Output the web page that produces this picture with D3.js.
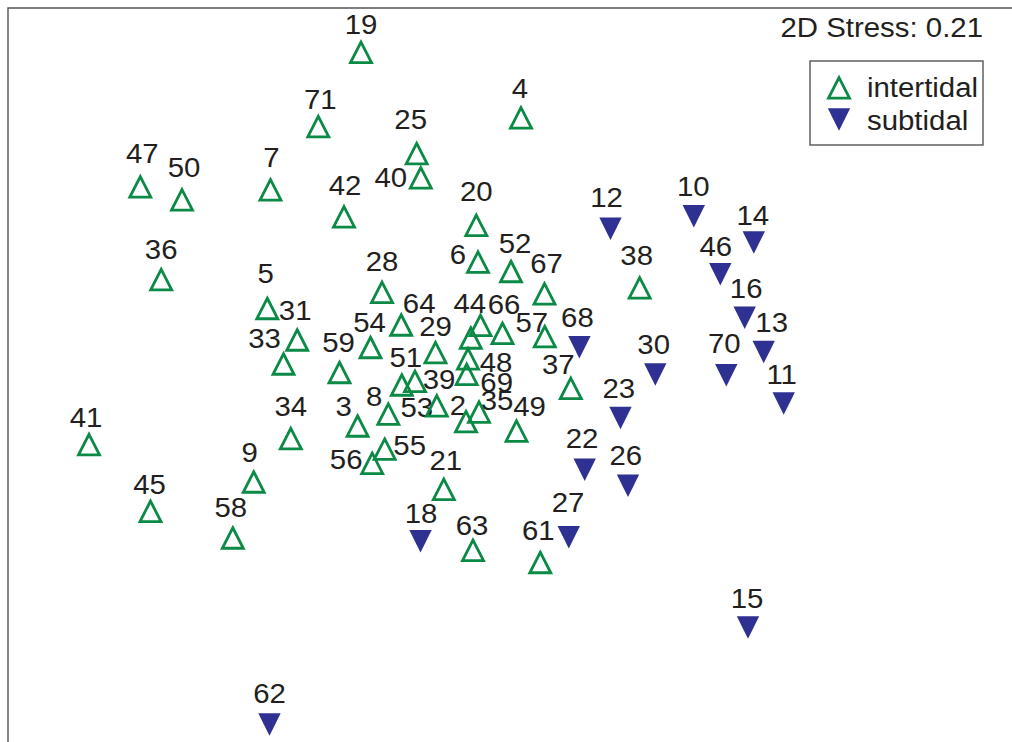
<!DOCTYPE html>
<html>
<head>
<meta charset="utf-8">
<script src="https://cdn.jsdelivr.net/npm/d3@7"></script>
<style>
html,body{margin:0;padding:0;background:#fff;}
svg{display:block;}
</style>
</head>
<body>
<script>
// ---------------- DATA (MDS coordinates) ----------------
const groups = ["intertidal", "subtidal"];
const stressText = "2D Stress: 0.21";

const intertidalIds = ["19","71","4","25","40","47","50","7","42","20","36","6","52","67","38","28","5","31","64","54","44","","66","57","29","33","59","48","69","51","39","37","8","53","2","35","49","3","34","55","56","41","9","21","45","58","63","61"];
const intertidalX = [-0.695,-0.9085,0.105,-0.4165,-0.396,-1.7985,-1.59,-1.1475,-0.78,-0.1185,-1.694,-0.11,0.055,0.2225,0.6985,-0.59,-1.1635,-1.014,-0.494,-0.6475,-0.146,-0.0975,0.0125,0.224,-0.3225,-1.0825,-0.8025,-0.16,-0.1665,-0.491,-0.425,0.354,-0.5585,-0.316,-0.17,-0.105,0.0825,-0.712,-1.046,-0.5765,-0.639,-2.055,-1.2315,-0.281,-1.7475,-1.336,-0.135,0.2015];
const intertidalY = [1.7425,1.371,1.415,1.236,1.115,1.07,1.005,1.055,0.92,0.8775,0.606,0.6935,0.6465,0.535,0.565,0.5425,0.4615,0.304,0.379,0.2665,0.314,0.3775,0.3375,0.321,0.241,0.184,0.1415,0.21,0.1325,0.079,0.097,0.0625,-0.0665,-0.025,-0.104,-0.0565,-0.1515,-0.126,-0.189,-0.242,-0.313,-0.219,-0.406,-0.4425,-0.5525,-0.686,-0.7475,-0.8085];

const subtidalIds = ["12","10","14","46","16","13","68","30","70","11","23","22","26","27","18","15","62"];
const subtidalX = [0.5525,0.969,1.269,1.1015,1.2235,1.3185,0.397,0.7765,1.1315,1.4185,0.6025,0.4235,0.64,0.344,-0.3975,1.24,-1.1525];
const subtidalY = [0.856,0.919,0.7875,0.6285,0.4115,0.24,0.264,0.1275,0.1235,-0.0175,-0.09,-0.3485,-0.429,-0.6865,-0.706,-1.1375,-1.6225];

// ---------------- LAYOUT (label nudges in px, baseline relative to marker) ----------------
const labelNudge = {
  "19":[0,-18],"71":[2,-16.5],"4":[-1,-19],"25":[-6,-24],"40":[-30,10],"47":[2,-23],"50":[2,-22],
  "7":[1,-22],"42":[1,-21],"20":[0,-24],"36":[0,-19.5],"6":[-20,3],"52":[4,-17.5],"67":[2,-20],
  "38":[-3,-22],"28":[0,-21],"5":[-1.5,-25],"31":[-2,-19],"64":[18,-11],"54":[-1,-15],"44":[-1,-24],
  "66":[1.5,-19],"57":[-13,-4],"29":[0,-16],"33":[-19,-15],"59":[-1,-20],"48":[28,14],"69":[30,18],
  "51":[4,-17],"39":[24,8],"37":[-12.5,-14],"8":[-14,-7],"53":[-20,12],"2":[-8,-6],"35":[18,-1],
  "49":[13,-14],"3":[-14,-9],"34":[0,-22],"55":[25,6.5],"56":[-26,6],"41":[-3,-17],"9":[-4,-19.5],
  "21":[2,-18.5],"45":[-1,-17],"58":[-2,-20],"63":[-1,-14.5],"61":[-2,-22],
  "12":[-4,-22],"10":[-0.5,-20],"14":[-1,-17.5],"46":[-4.5,-18.3],"16":[1.5,-19.5],"13":[8,-20.3],
  "68":[-2,-20.6],"30":[-1.6,-21],"70":[-2,-22],"11":[-2,-20],"23":[-1.7,-20.3],"22":[-2.7,-21.4],
  "26":[-2.2,-20.8],"27":[-0.8,-25.6],"18":[0.5,-18],"15":[-1,-20],"62":[0,-22]
};

const W = 1012, H = 742;
const green = "#0a8a45", navy = "#2e3192", textCol = "#231f20", frameCol = "#555";
const font = "'Liberation Sans', Arial, Helvetica, sans-serif";
const stretch = 1.05; // reference glyphs are slightly wide

const svg = d3.select("body").append("svg").attr("width", W).attr("height", H);

const x = d3.scaleLinear().domain([-2, 2]).range([100, 900]);
const y = d3.scaleLinear().domain([-2, 2]).range([800, 0]);

// frame (top and left only visible)
svg.append("path").attr("d", `M${W},8H8V${H}`).attr("fill","none")
  .attr("stroke", frameCol).attr("stroke-width", 1.4);

const upPath = "M0,-9.45L10.5,11.05L-10.5,11.05Z";
const downPath = "M-11.2,-11.2L11.2,-11.2L0,11.2Z";

const pts = [];
intertidalIds.forEach((id,i)=>pts.push({id, g:"intertidal", x:intertidalX[i], y:intertidalY[i]}));
subtidalIds.forEach((id,i)=>pts.push({id, g:"subtidal", x:subtidalX[i], y:subtidalY[i]}));

// labels
svg.append("g").selectAll("text").data(pts.filter(d=>d.id!=="")).join("text")
  .attr("transform", d => {
    const n = labelNudge[d.id] || [0,-20];
    return `translate(${x(d.x) + n[0]},${y(d.y) + n[1]}) scale(${stretch},1)`;
  })
  .attr("text-anchor","middle")
  .attr("font-family", font).attr("font-size", 28).attr("fill", textCol)
  .text(d => d.id);

// markers
const mk = svg.append("g");
mk.selectAll("path.up").data(pts.filter(d=>d.g==="intertidal")).join("path")
  .attr("class","up")
  .attr("transform", d => `translate(${x(d.x)},${y(d.y)})`)
  .attr("d", upPath).attr("fill","none").attr("stroke", green).attr("stroke-width", 2.8);
mk.selectAll("path.down").data(pts.filter(d=>d.g==="subtidal")).join("path")
  .attr("class","down")
  .attr("transform", d => `translate(${x(d.x)},${y(d.y)})`)
  .attr("d", downPath).attr("fill", navy).attr("stroke","none");

// stress text
svg.append("text").attr("transform", `translate(983,37) scale(${stretch},1)`).attr("text-anchor","end")
  .attr("font-family", font).attr("font-size", 28).attr("fill", textCol)
  .text(stressText);

// legend
const lg = svg.append("g");
lg.append("rect").attr("x", 810).attr("y", 61).attr("width", 173).attr("height", 84)
  .attr("fill","#fff").attr("stroke", frameCol).attr("stroke-width", 1.4);
const legY = d3.scalePoint().domain(groups).range([87, 119.5]);
groups.forEach(g => {
  lg.append("path").attr("transform", `translate(839,${legY(g)})`)
    .attr("d", g==="intertidal" ? upPath : downPath)
    .attr("fill", g==="intertidal" ? "none" : navy)
    .attr("stroke", g==="intertidal" ? green : "none")
    .attr("stroke-width", 2.8);
  lg.append("text").attr("transform", `translate(867,${legY(g) + 10}) scale(${stretch},1)`)
    .attr("font-family", font).attr("font-size", 28).attr("fill", textCol)
    .text(g);
});
</script>
</body>
</html>
